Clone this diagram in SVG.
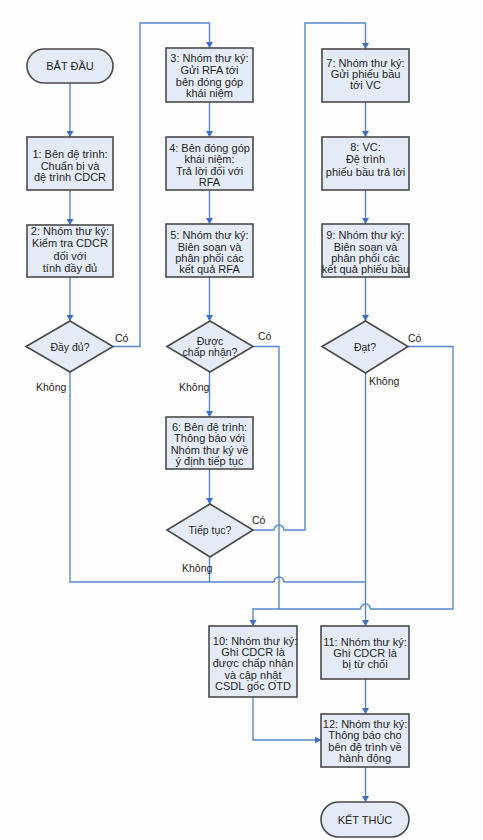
<svg xmlns="http://www.w3.org/2000/svg" width="483" height="840" viewBox="0 0 483 840">
<defs>
<marker id="ah" markerUnits="userSpaceOnUse" markerWidth="8" markerHeight="8" refX="6" refY="3.5" orient="auto">
<path d="M0,0 L6,3.5 L0,7 z" fill="#3f6fc0"/>
</marker>
<style>
.box{fill:#e4ebf6;stroke:#4a4a4a;stroke-width:1.6}
.t{font-family:"Liberation Sans",Arial,sans-serif;font-size:11px;fill:#1e1e1e;text-anchor:middle}
.d{font-family:"Liberation Sans",Arial,sans-serif;font-size:10.5px;fill:#1e1e1e;text-anchor:middle}
.l{font-family:"Liberation Sans",Arial,sans-serif;font-size:10.5px;fill:#1e1e1e}
.c{fill:none;stroke:#5a86cc;stroke-width:1.4}
.a{marker-end:url(#ah)}
</style>
</defs>
<rect width="483" height="840" fill="#fdfdfd"/>
<g id="connectors">
<path class="c a" d="M70,83 V137"/>
<path class="c a" d="M70,190 V225"/>
<path class="c a" d="M70,277 V321"/>
<path class="c a" d="M113,346.5 H140 V23 H209.5 V48"/>
<path class="c a" d="M209.5,102 V137"/>
<path class="c a" d="M209.5,190 V224"/>
<path class="c a" d="M209.5,277 V321"/>
<path class="c a" d="M209.5,372 V417"/>
<path class="c a" d="M209.5,469 V504"/>
<path class="c" d="M253,346.5 H279 V609"/>
<path class="c a" d="M253,530 H274 A5,5 0 0 1 284,530 H305 V23 H365.5 V49"/>
<path class="c" d="M209.5,557 V582"/>
<path class="c" d="M70,372 V582 H274 A5,5 0 0 1 284,582 H365.5"/>
<path class="c a" d="M365.5,102 V137"/>
<path class="c a" d="M365.5,190 V224"/>
<path class="c a" d="M365.5,277 V321"/>
<path class="c a" d="M365.5,373 V626"/>
<path class="c a" d="M408,346.5 H453 V609 H370.5 A5,5 0 0 0 360.5,609 H253 V626"/>
<path class="c a" d="M253,697 V740 H321"/>
<path class="c a" d="M365.5,679 V714"/>
<path class="c a" d="M365.5,767 V802"/>
</g>
<g id="start">
<rect class="box" x="27" y="49" width="86" height="34" rx="17"/>
<text class="t" x="70" y="70">BẮT ĐẦU</text>
</g>
<g id="n1">
<rect class="box" x="27" y="137" width="86" height="53"/>
<text class="t" x="70" y="158">1: Bên đệ trình:</text>
<text class="t" x="70" y="169.5">Chuẩn bị và</text>
<text class="t" x="70" y="181">đệ trình CDCR</text>
</g>
<g id="n2">
<rect class="box" x="27" y="225" width="86" height="52"/>
<text class="t" x="70" y="235">2: Nhóm thư ký:</text>
<text class="t" x="70" y="247">Kiểm tra CDCR</text>
<text class="t" x="70" y="259.5">đối với</text>
<text class="t" x="70" y="272">tính đầy đủ</text>
</g>
<g id="d1">
<polygon class="box" points="26,346.5 70,321 113,346.5 70,372"/>
<text class="d" x="70" y="350.5">Đầy đủ?</text>
</g>
<g id="n3">
<rect class="box" x="166" y="48" width="87" height="54"/>
<text class="t" x="209.5" y="62">3: Nhóm thư ký:</text>
<text class="t" x="209.5" y="74">Gửi RFA tới</text>
<text class="t" x="209.5" y="85.5">bên đóng góp</text>
<text class="t" x="209.5" y="97">khái niệm</text>
</g>
<g id="n4">
<rect class="box" x="166" y="137" width="87" height="53"/>
<text class="t" x="209.5" y="152">4: Bên đóng góp</text>
<text class="t" x="209.5" y="163">khái niệm:</text>
<text class="t" x="209.5" y="174.5">Trả lời đối với</text>
<text class="t" x="209.5" y="186">RFA</text>
</g>
<g id="n5">
<rect class="box" x="166" y="224" width="87" height="53"/>
<text class="t" x="209.5" y="239">5: Nhóm thư ký:</text>
<text class="t" x="209.5" y="251">Biên soạn và</text>
<text class="t" x="209.5" y="262">phân phối các</text>
<text class="t" x="209.5" y="273">kết quả RFA</text>
</g>
<g id="d2">
<polygon class="box" points="167,346.5 210,321 253,346.5 210,372"/>
<text class="d" x="210" y="345">Được</text>
<text class="d" x="210" y="356">chấp nhận?</text>
</g>
<g id="n6">
<rect class="box" x="166" y="417" width="87" height="52"/>
<text class="t" x="209.5" y="431">6: Bên đệ trình:</text>
<text class="t" x="209.5" y="442">Thông báo với</text>
<text class="t" x="209.5" y="453.5">Nhóm thư ký về</text>
<text class="t" x="209.5" y="465">ý định tiếp tục</text>
</g>
<g id="d3">
<polygon class="box" points="167,530 210,504 253,530 210,557"/>
<text class="d" x="210" y="534">Tiếp tục?</text>
</g>
<g id="n7">
<rect class="box" x="322" y="49" width="87" height="53"/>
<text class="t" x="365.5" y="67">7: Nhóm thư ký:</text>
<text class="t" x="365.5" y="78">Gửi phiếu bầu</text>
<text class="t" x="365.5" y="89">tới VC</text>
</g>
<g id="n8">
<rect class="box" x="322" y="137" width="87" height="53"/>
<text class="t" x="365.5" y="151">8: VC:</text>
<text class="t" x="365.5" y="163">Đệ trình</text>
<text class="t" x="365.5" y="176">phiếu bầu trả lời</text>
</g>
<g id="n9">
<rect class="box" x="322" y="224" width="87" height="53"/>
<text class="t" x="365.5" y="239">9: Nhóm thư ký:</text>
<text class="t" x="365.5" y="251">Biên soạn và</text>
<text class="t" x="365.5" y="262">phân phối các</text>
<text class="t" x="365.5" y="273">kết quả phiếu bầu</text>
</g>
<g id="d4">
<polygon class="box" points="322,346.5 365.5,321 408,346.5 365.5,373"/>
<text class="d" x="365" y="350.5">Đạt?</text>
</g>
<g id="n10">
<rect class="box" x="209" y="626" width="88" height="71"/>
<text class="t" x="255" y="645">10: Nhóm thư ký:</text>
<text class="t" x="253" y="656">Ghi CDCR là</text>
<text class="t" x="253" y="667">được chấp nhận</text>
<text class="t" x="253" y="678.5">và cập nhật</text>
<text class="t" x="253" y="690">CSDL gốc OTD</text>
</g>
<g id="n11">
<rect class="box" x="321" y="626" width="88" height="53"/>
<text class="t" x="365" y="646">11: Nhóm thư ký:</text>
<text class="t" x="365" y="657">Ghi CDCR là</text>
<text class="t" x="365" y="668">bị từ chối</text>
</g>
<g id="n12">
<rect class="box" x="321" y="714" width="88" height="53"/>
<text class="t" x="365" y="728">12: Nhóm thư ký:</text>
<text class="t" x="365" y="739">Thông báo cho</text>
<text class="t" x="365" y="751">bên đệ trình về</text>
<text class="t" x="365" y="762">hành động</text>
</g>
<g id="end">
<rect class="box" x="321" y="802" width="88" height="35" rx="17.5"/>
<text class="t" x="365" y="824">KẾT THÚC</text>
</g>
<g id="labels">
<text class="l" x="115" y="342">Có</text>
<text class="l" x="36" y="391">Không</text>
<text class="l" x="258" y="340">Có</text>
<text class="l" x="179" y="391">Không</text>
<text class="l" x="252" y="524">Có</text>
<text class="l" x="182" y="572">Không</text>
<text class="l" x="408" y="342">Có</text>
<text class="l" x="369" y="385">Không</text>
</g>
</svg>
